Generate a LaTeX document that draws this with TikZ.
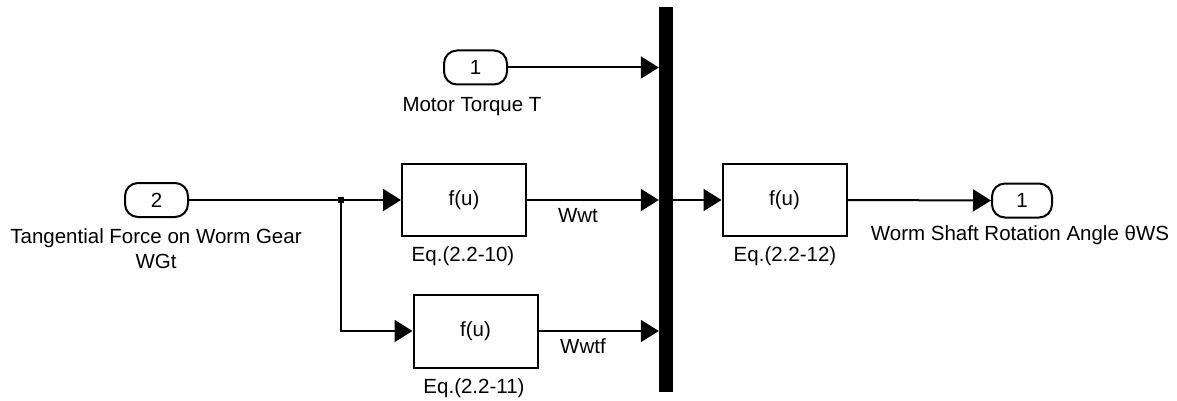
\documentclass[tikz,border=0pt]{standalone}
\usepackage{fontspec}
\setmainfont{Liberation Sans}
\usetikzlibrary{arrows.meta}
\begin{document}
\begin{tikzpicture}[x=1pt,y=-1pt,
  txt/.style={font=\fontsize{20.5}{25}\selectfont, inner sep=0pt, anchor=base, align=center},
  blk/.style={draw, line width=2pt, minimum width=124pt, minimum height=72pt, inner sep=0pt, font=\fontsize{20.5}{24}\selectfont},
  port/.style={draw, line width=2pt, rounded corners=13pt, minimum width=63pt, minimum height=34pt, inner sep=0pt, font=\fontsize{20.5}{24}\selectfont},
  wire/.style={line width=2pt},
  sig/.style={line width=2pt, -{Triangle[length=18pt,width=22pt]}}]
\useasboundingbox (0,0) rectangle (1177,401);
% bus bar
\node[fill=black, minimum width=14pt, minimum height=385pt, inner sep=0pt] (bus) at (666,199.5) {};
% ports
\node[port] (in1) at (475.5,67.5) {1};
\node[port] (in2) at (156.5,200) {2};
\node[port, minimum width=60pt] (out1) at (1022,200.5) {1};
% blocks
\node[blk] (f1) at (464,200) {f(u)};
\node[blk, minimum height=73pt] (f2) at (475.5,331) {f(u)};
\node[blk] (f3) at (784.5,200) {f(u)};
% labels
\node[txt] (lin1) at (472,112) {Motor Torque T};
\node[txt, anchor=north] (lin2) at (156,228) {Tangential Force on Worm Gear\\WGt};
\node[txt] (lout) at (1020,240) {Worm Shaft Rotation Angle θWS};
\node[txt] (e10) at (463,261) {Eq.(2.2-10)};
\node[txt] (e11) at (474,393) {Eq.(2.2-11)};
\node[txt] (e12) at (785,261) {Eq.(2.2-12)};
\node[txt] (wwt) at (578,222) {Wwt};
\node[txt] (wwtf) at (583,353) {Wwtf};
% junction
\coordinate (j) at (341,200);
\fill (j) +(-3,-3) rectangle +(3,3);
% wires
\draw[wire] (in2.east) -- (j);
\draw[sig] (j) -- (f1.west);
\draw[sig] (j) |- (f2.west);
\draw[sig] (in1.east) -- (in1.east -| bus.west);
\draw[sig] (f1.east) -- (f1.east -| bus.west);
\draw[sig] (f2.east) -- (f2.east -| bus.west);
\draw[sig] (bus.east |- f3.west) -- (f3.west);
\draw[sig] (f3.east) -- (out1.west);
\end{tikzpicture}
\end{document}
